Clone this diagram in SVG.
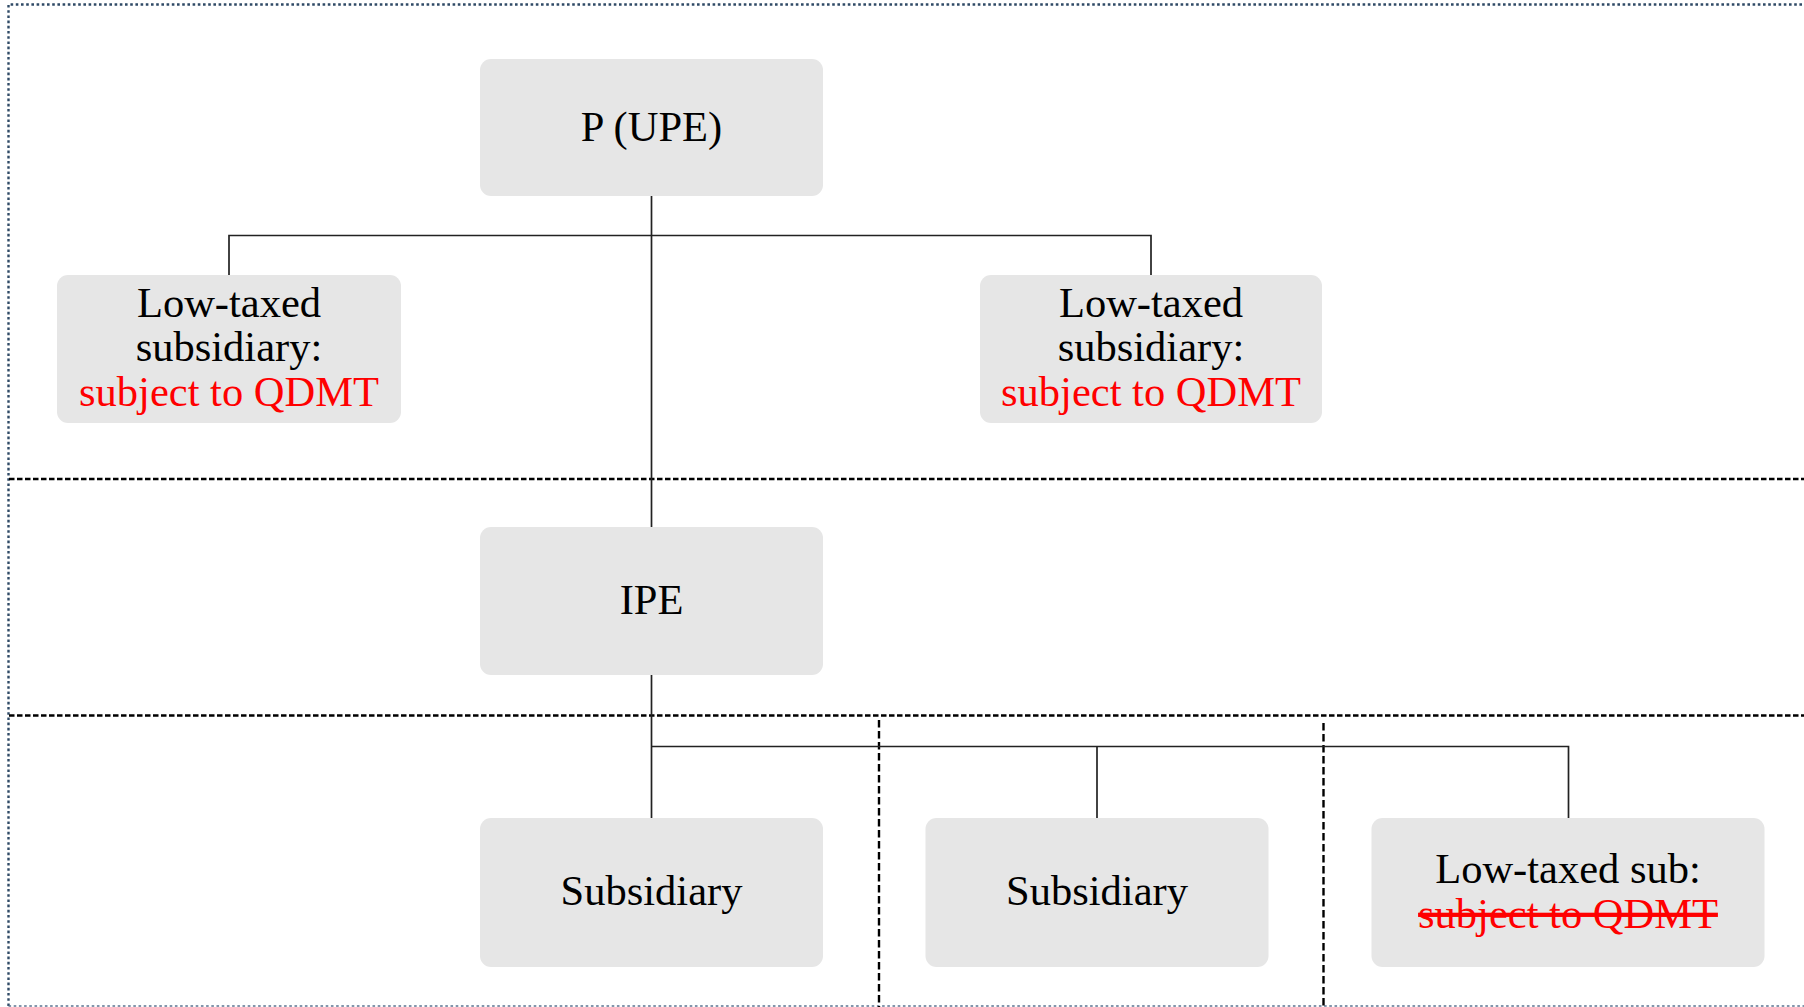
<svg xmlns="http://www.w3.org/2000/svg" width="1804" height="1007" viewBox="0 0 1804 1007">
<style>
  .box { fill: #e6e6e6; }
  .t { font-family: "Liberation Serif", "Times New Roman", serif; font-size: 42.5px; fill: #000; text-anchor: middle; }
  .red { fill: #ff0000; }
  .conn { stroke: #222; stroke-width: 1.7; fill: none; }
  .hdash { stroke: #000; stroke-width: 2.6; stroke-dasharray: 5.5 2.5; fill: none; }
  .vdash { stroke: #000; stroke-width: 2.4; stroke-dasharray: 7.5 3.5; fill: none; }
  .border { stroke: #2f4a66; stroke-width: 2.4; stroke-dasharray: 2.6 2.6; fill: none; }
  .bborder { stroke: #5a7390; stroke-width: 1.6; stroke-dasharray: 2.6 2.6; fill: none; }
</style>
<rect width="1804" height="1007" fill="#fff"/>
<g id="frame">
  <path class="border" d="M8.5 1006 V4.5 H1804"/>
  <path class="bborder" d="M8.5 1006 H1804"/>
  <path class="hdash" d="M9 479 H1804"/>
  <path class="hdash" d="M9 715.5 H1804"/>
  <path class="vdash" d="M879 720 V1007"/>
  <path class="vdash" d="M1323.5 723 V1007"/>
</g>
<g id="connectors">
  <path class="conn" d="M651.5 196 V527"/>
  <path class="conn" d="M229 275 V235.5 H1151 V275"/>
  <path class="conn" d="M651.5 675 V818"/>
  <path class="conn" d="M651.5 746.5 H1568.5 V818"/>
  <path class="conn" d="M1097 746.5 V818"/>
</g>
<g id="node-upe">
  <rect class="box" x="480" y="59" width="343" height="137" rx="11"/>
  <text class="t" x="651.5" y="141">P (UPE)</text>
</g>
<g id="node-low-left">
  <rect class="box" x="57" y="275" width="344" height="148" rx="11"/>
  <text class="t" x="229" y="317">Low-taxed</text>
  <text class="t" x="229" y="361">subsidiary:</text>
  <text class="t red" x="229" y="405.5">subject to QDMT</text>
</g>
<g id="node-low-right">
  <rect class="box" x="980" y="275" width="342" height="148" rx="11"/>
  <text class="t" x="1151" y="317">Low-taxed</text>
  <text class="t" x="1151" y="361">subsidiary:</text>
  <text class="t red" x="1151" y="405.5">subject to QDMT</text>
</g>
<g id="node-ipe">
  <rect class="box" x="480" y="527" width="343" height="148" rx="11"/>
  <text class="t" x="651.5" y="614">IPE</text>
</g>
<g id="node-sub1">
  <rect class="box" x="480" y="818" width="343" height="149" rx="11"/>
  <text class="t" x="651.5" y="905">Subsidiary</text>
</g>
<g id="node-sub2">
  <rect class="box" x="925.5" y="818" width="343" height="149" rx="11"/>
  <text class="t" x="1097" y="905">Subsidiary</text>
</g>
<g id="node-sub3">
  <rect class="box" x="1371.5" y="818" width="393" height="149" rx="11"/>
  <text class="t" x="1568" y="883">Low-taxed sub:</text>
  <text class="t red" x="1568" y="927.5" text-decoration="line-through">subject to QDMT</text>
</g>
</svg>
